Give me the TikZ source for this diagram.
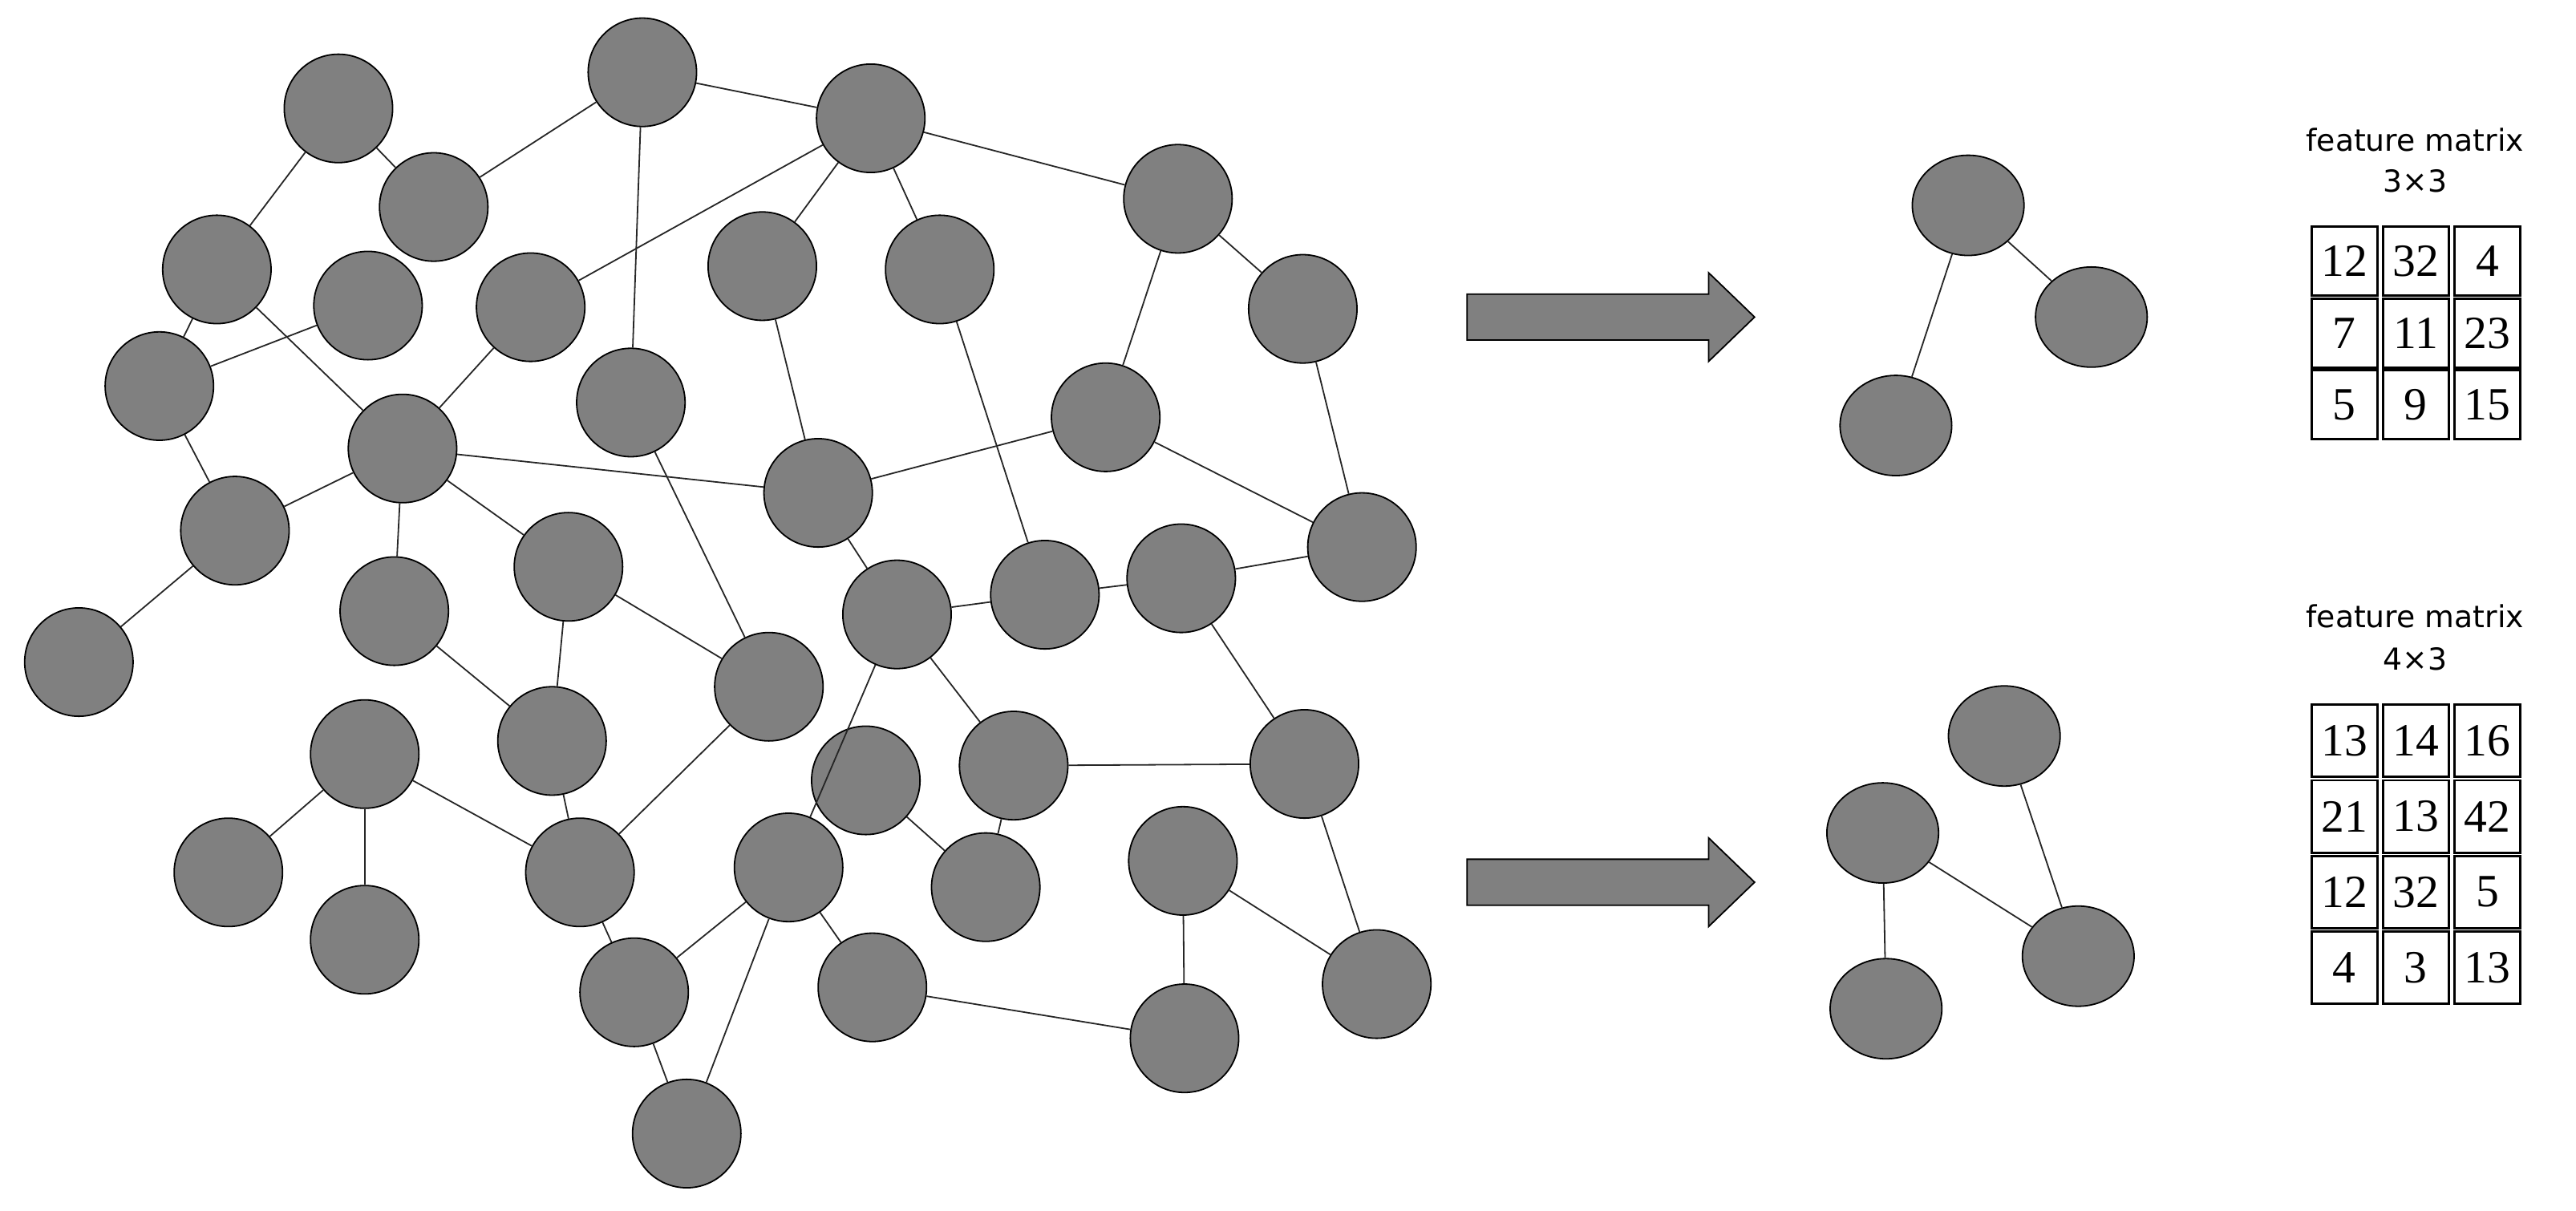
\documentclass[tikz,border=0pt]{standalone}
\usepackage{fontspec}
\setmainfont{Liberation Serif}
\newfontfamily\titlefont{DejaVu Sans}
\usetikzlibrary{shapes.geometric}
\definecolor{ng}{RGB}{128,128,128}
\tikzset{
 gn/.style={circle,fill=ng,draw=black,line width=0.5pt,minimum size=1.32cm,inner sep=0pt},
 sn/.style={ellipse,fill=ng,draw=black,line width=0.5pt,minimum width=1.36cm,minimum height=1.22cm,inner sep=0pt},
 ed/.style={line width=0.5pt,draw=black!85},
 cell/.style={draw=black,line width=0.8pt,minimum width=0.8cm,minimum height=0.8cm,inner sep=0pt,font=\fontsize{16}{16}\selectfont},
 ttl/.style={font=\titlefont\fontsize{10.5}{12}\selectfont,inner sep=0pt},
 bigarrow/.style={fill=ng,draw=black,line width=0.5pt}
}
\begin{document}
\begin{tikzpicture}[x=0.02cm,y=-0.02cm]
\useasboundingbox (0,0) rectangle (1568,737);
\foreach \n/\x/\y in {1/206/66,2/391/44,3/530/72,4/264/126,5/132/164,6/224/186,7/323/187,8/464/162,9/572/164,10/717/121,11/793/188,12/97/235,13/384/245,14/245/273,15/673/254,16/498/300,17/143/323,18/346/345,19/240/372,20/829/333,21/48/403,22/546/374,23/636/362,24/719/352,25/468/418,26/336/451,27/222/459,28/527/475,29/617/466,30/794/465,31/139/531,32/353/531,33/480/528,34/720/524,35/222/572,36/600/540,37/386/604,38/531/601,39/838/599,40/721/632,41/418/690}
  \node[gn] (n\n) at (\x,\y) {};
\begin{scope}[on background layer/.style={}]
\end{scope}
\foreach \a/\b in {2/4,2/3,2/13,3/7,3/8,3/9,3/10,1/4,1/5,5/12,5/14,6/12,12/17,7/14,14/17,14/16,14/19,14/18,17/21,8/16,9/23,10/11,10/15,11/20,15/16,15/20,16/22,13/25,18/25,18/26,19/26,22/23,23/24,24/20,24/30,22/29,22/33,25/32,26/32,27/31,27/35,27/32,29/30,29/36,28/36,32/37,33/37,33/41,33/38,37/41,38/40,34/40,34/39,30/39}
  \draw[ed] (n\a) -- (n\b);
% arrows
\foreach \yy/\k in {193/a,537/b}{
  \draw[bigarrow] (893,\yy-14) -- (1040,\yy-14) -- (1040,\yy-27) -- (1068,\yy) -- (1040,\yy+27) -- (1040,\yy+14) -- (893,\yy+14) -- cycle;
}
% small graphs
\node[sn] (a) at (1198,125) {};
\node[sn] (b) at (1273,193) {};
\node[sn] (c) at (1154,259) {};
\draw[ed] (a) -- (b); \draw[ed] (a) -- (c);
\node[sn] (d) at (1220,448) {};
\node[sn] (e) at (1146,507) {};
\node[sn] (f) at (1265,582) {};
\node[sn] (g) at (1148,614) {};
\draw[ed] (d) -- (f); \draw[ed] (e) -- (f); \draw[ed] (e) -- (g);
% matrices
\node[ttl] (t1) at (1470,85) {feature matrix};
\node[ttl] (t1b) at (1470,110) {3×3};
\foreach \r/\row in {0/{12,32,4},1/{7,11,23},2/{5,9,15}}{
  \foreach \v [count=\c from 0] in \row
    \node[cell,minimum height=0.84cm] (m1-\r-\c) at (1427+\c*43.5,159+\r*43.7) {\v};
}
\node[ttl] (t2) at (1470,375) {feature matrix};
\node[ttl] (t2b) at (1470,401) {4×3};
\foreach \r/\row in {0/{13,14,16},1/{21,13,42},2/{12,32,5},3/{4,3,13}}{
  \foreach \v [count=\c from 0] in \row
    \node[cell,minimum height=0.88cm] (m2-\r-\c) at (1427+\c*43.5,451+\r*46) {\v};
}
\end{tikzpicture}
\end{document}
